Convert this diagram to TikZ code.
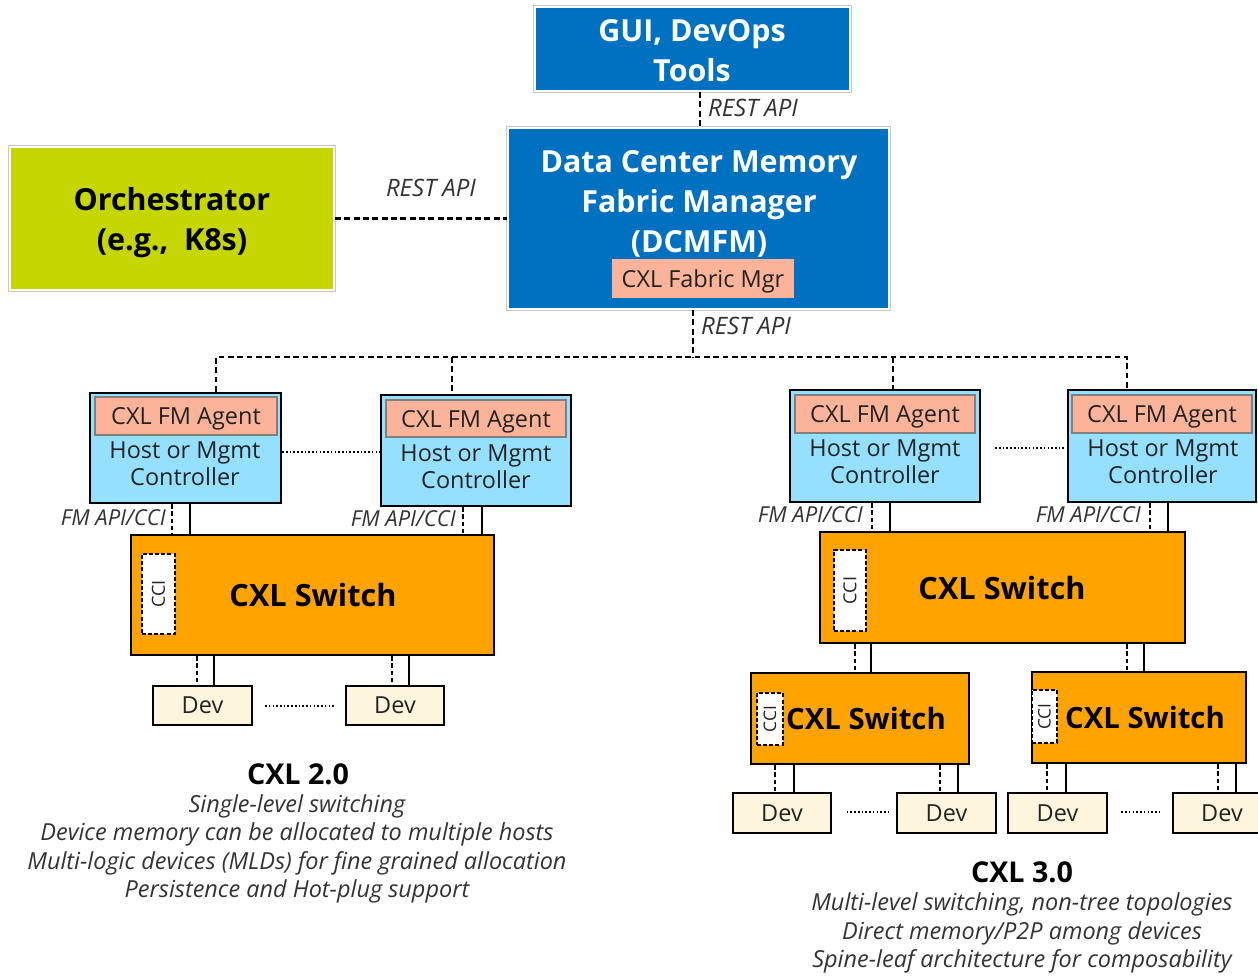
\documentclass[tikz,border=0pt]{standalone}
\usepackage{fontspec}
\setmainfont{Open Sans}
\usetikzlibrary{fit,calc}

\definecolor{dcblue}{HTML}{0070C0}
\definecolor{orchgreen}{HTML}{C5D600}
\definecolor{agentsalmon}{HTML}{FBB49A}
\definecolor{hostblue}{HTML}{95E0FF}
\definecolor{switchorange}{HTML}{FFA300}
\definecolor{devcream}{HTML}{FEF6DC}
\definecolor{inktext}{HTML}{222222}
\definecolor{softtext}{HTML}{333333}

\tikzset{
  region/.style={fit={#1}, inner sep=0pt},
  framed/.style={draw=white, line width=1.6pt,
    preaction={draw=black!22, line width=3pt}},
  titlefont/.style={font=\bfseries\fontsize{22.8pt}{30pt}\selectfont},
  bluebox/.style={framed, fill=dcblue},
  orchbox/.style={framed, fill=orchgreen},
  titletext/.style={titlefont, align=center, inner sep=0pt},
  smalltext/.style={text=inktext, align=center, inner sep=0pt,
    font=\fontsize{17.6pt}{20.3pt}\selectfont},
  agenttext/.style={smalltext, yshift=-2.2pt},
  fabricmgr/.style={fill=agentsalmon},
  hostbox/.style={fill=hostblue, draw=black, line width=1.9pt},
  agentbox/.style={fill=agentsalmon, draw=black!50, line width=1.2pt},
  switchbox/.style={fill=switchorange, draw=black, line width=1.9pt},
  switchtext/.style={text=black, inner sep=0pt,
    font=\bfseries\fontsize{#1}{#1}\selectfont},
  ccibox/.style={fill=white, draw=black, line width=1.4pt,
    dash pattern=on 3pt off 1.6pt},
  ccitext/.style={text=inktext, rotate=90, inner sep=0pt,
    font=\fontsize{#1}{#1}\selectfont},
  devbox/.style={fill=devcream, draw=black, line width=1.6pt},
  busline/.style={draw=black, line width=2pt, dash pattern=on 4.4pt off 2.6pt},
  linkdash/.style={draw=black, line width=1.7pt, dash pattern=on 3.4pt off 2pt},
  linksolid/.style={draw=black, line width=1.7pt},
  dotline/.style={draw=black, line width=1.5pt, dash pattern=on 1.2pt off 1.6pt},
  apilabel/.style={text=softtext, inner sep=0pt,
    font=\itshape\fontsize{18pt}{20pt}\selectfont},
  fmlabel/.style={text=softtext, anchor=east, inner sep=0pt,
    font=\itshape\fontsize{16.5pt}{18pt}\selectfont},
  gentitle/.style={text=black, inner sep=0pt,
    font=\bfseries\fontsize{21.5pt}{24pt}\selectfont},
  genlist/.style={text=softtext, align=center, inner sep=0pt,
    font=\itshape\fontsize{17.6pt}{21.3pt}\selectfont},
}

\begin{document}
\begin{tikzpicture}[x=0.75pt, y=-0.75pt]
\useasboundingbox (0,0) rectangle (1258,976);

% management tier
\node[bluebox, region={(535,7) (850,91)}] (gui) {};
\node[titletext, text=white] (guitext) at (692,51) {GUI, DevOps\\Tools};
\node[bluebox, region={(508,128) (889,309)}] (dcm) {};
\node[titletext, text=white] (dcmtext) at (699,204)
  {Data Center Memory\\Fabric Manager\\(DCMFM)};
\node[fabricmgr, region={(612,259) (794,298)}] (fmgr) {};
\node[agenttext] (fmgrtext) at (fmgr.center) {CXL Fabric Mgr};
\node[orchbox, region={(10,147) (334,290)}] (orch) {};
\node[titletext, text=black] (orchtext) at (172,223) {Orchestrator\\(e.g.,~ K8s)};

\draw[busline] (gui.south -| 700,0) -- (dcm.north -| 700,0);
\node[apilabel] (api1) at (753,108) {REST API};
\draw[busline] (orch.east) -- (dcm.west |- orch.east);
\node[apilabel] (api2) at (431,188) {REST API};

% host / management controllers
\node[hostbox, region={(90,393) (281,503)}] (h1) {};
\node[agentbox, region={(95,397) (277,435)}] (a1) {};
\node[agenttext] (a1text) at (a1.center) {CXL FM Agent};
\node[smalltext] (t1) at (185,464) {Host or Mgmt\\Controller};
\node[hostbox, region={(381,395) (571,506)}] (h2) {};
\node[agentbox, region={(386,400) (566,437)}] (a2) {};
\node[agenttext] (a2text) at (a2.center) {CXL FM Agent};
\node[smalltext] (t2) at (476,467) {Host or Mgmt\\Controller};
\node[hostbox, region={(790,390) (980,502)}] (h3) {};
\node[agentbox, region={(795,395) (975,433)}] (a3) {};
\node[agenttext] (a3text) at (a3.center) {CXL FM Agent};
\node[smalltext] (t3) at (885,462) {Host or Mgmt\\Controller};
\node[hostbox, region={(1068,390) (1256,502)}] (h4) {};
\node[agentbox, region={(1072,395) (1252,433)}] (a4) {};
\node[agenttext] (a4text) at (a4.center) {CXL FM Agent};
\node[smalltext] (t4) at (1163,462) {Host or Mgmt\\Controller};

% REST API bus from the fabric manager down to the controllers
\coordinate (busL) at (216,357);
\coordinate (busR) at (1127,357);
\draw[busline] (dcm.south -| 693,0) -- (busL -| 693,0);
\node[apilabel] (api3) at (746,326) {REST API};
\draw[busline] (h1.north -| busL) -- (busL) -- (busR) -- (h4.north -| busR);
\draw[busline] (busL -| 452,0) -- (h2.north -| 452,0);
\draw[busline] (busL -| 893,0) -- (h3.north -| 893,0);

\draw[dotline] (h1.east |- 0,452) -- (h2.west |- 0,452);
\draw[dotline, shorten <=10.5pt, shorten >=1.5pt] (h3.east |- 0,448) -- (h4.west |- 0,448);

% CXL 2.0 switch and devices
\node[switchbox, region={(131,535) (494,655)}] (s1) {};
\node[switchtext=23pt] (s1text) at (313,595) {CXL Switch};
\node[ccibox, region={(142,554) (175,634)}] (c1) {};
\node[ccitext=13.5pt] (c1text) at (c1.center) {CCI};

\draw[linkdash] (h1.south -| 172,0) -- (s1.north -| 172,0);
\draw[linksolid] (h1.south -| 190,0) -- (s1.north -| 190,0);
\draw[linkdash] (h2.south -| 463,0) -- (s1.north -| 463,0);
\draw[linksolid] (h2.south -| 482,0) -- (s1.north -| 482,0);
\node[fmlabel] (fm1) at (166,518) {FM API/CCI};
\node[fmlabel] (fm2) at (456,519) {FM API/CCI};

\node[devbox, region={(153,686) (252,725)}] (d1) {};
\node[smalltext] (d1text) at (d1.center) {Dev};
\node[devbox, region={(346,686) (444,725)}] (d2) {};
\node[smalltext] (d2text) at (d2.center) {Dev};
\draw[linkdash] (s1.south -| 197,0) -- (d1.north -| 197,0);
\draw[linksolid] (s1.south -| 214,0) -- (d1.north -| 214,0);
\draw[linkdash] (s1.south -| 392,0) -- (d2.north -| 392,0);
\draw[linksolid] (s1.south -| 409,0) -- (d2.north -| 409,0);
\draw[dotline, shorten <=9pt, shorten >=8pt] (d1.east) -- (d2.west);

% CXL 3.0 spine switch
\node[switchbox, region={(820,532) (1185,643)}] (s2) {};
\node[switchtext=23pt] (s2text) at (1002,588) {CXL Switch};
\node[ccibox, region={(834,550) (866,631)}] (c2) {};
\node[ccitext=13.5pt] (c2text) at (c2.center) {CCI};

\draw[linkdash] (h3.south -| 872,0) -- (s2.north -| 872,0);
\draw[linksolid] (h3.south -| 890,0) -- (s2.north -| 890,0);
\draw[linkdash] (h4.south -| 1150,0) -- (s2.north -| 1150,0);
\draw[linksolid] (h4.south -| 1168,0) -- (s2.north -| 1168,0);
\node[fmlabel] (fm3) at (863,515) {FM API/CCI};
\node[fmlabel] (fm4) at (1141,515) {FM API/CCI};

% leaf switches
\node[switchbox, region={(751,673) (969,764)}] (s3) {};
\node[switchtext=22pt] (s3text) at (866,718) {CXL Switch};
\node[ccibox, region={(757,693) (783,745)}] (c3) {};
\node[ccitext=13pt] (c3text) at (c3.center) {CCI};
\node[switchbox, region={(1032,672) (1246,763)}] (s4) {};
\node[switchtext=22pt] (s4text) at (1145,717) {CXL Switch};
\node[ccibox, region={(1032,690) (1057,743)}] (c4) {};
\node[ccitext=13pt] (c4text) at (c4.center) {CCI};

\draw[linkdash] (s2.south -| 855,0) -- (s3.north -| 855,0);
\draw[linksolid] (s2.south -| 871,0) -- (s3.north -| 871,0);
\draw[linkdash] (s2.south -| 1127,0) -- (s4.north -| 1127,0);
\draw[linksolid] (s2.south -| 1144,0) -- (s4.north -| 1144,0);

\node[devbox, region={(733,793) (831,833)}] (d3) {};
\node[smalltext] (d3text) at (d3.center) {Dev};
\node[devbox, region={(897,793) (996,833)}] (d4) {};
\node[smalltext] (d4text) at (d4.center) {Dev};
\node[devbox, region={(1008,793) (1107,833)}] (d5) {};
\node[smalltext] (d5text) at (d5.center) {Dev};
\node[devbox, region={(1173,793) (1272,833)}] (d6) {};
\node[smalltext] (d6text) at (1222,813) {Dev};

\draw[linkdash] (s3.south -| 775,0) -- (d3.north -| 775,0);
\draw[linksolid] (s3.south -| 794,0) -- (d3.north -| 794,0);
\draw[linkdash] (s3.south -| 940,0) -- (d4.north -| 940,0);
\draw[linksolid] (s3.south -| 958,0) -- (d4.north -| 958,0);
\draw[linkdash] (s4.south -| 1047,0) -- (d5.north -| 1047,0);
\draw[linksolid] (s4.south -| 1066,0) -- (d5.north -| 1066,0);
\draw[linkdash] (s4.south -| 1218,0) -- (d6.north -| 1218,0);
\draw[linksolid] (s4.south -| 1236,0) -- (d6.north -| 1236,0);
\draw[dotline, shorten <=11pt, shorten >=6pt] (d3.east |- 0,812) -- (d4.west |- 0,812);
\draw[dotline, shorten <=10pt, shorten >=8pt] (d5.east |- 0,812) -- (d6.west |- 0,812);

% generation summaries
\node[gentitle] (g2) at (298,774) {CXL 2.0};
\node[genlist] (g2list) at (297,849) {Single-level switching\\
  Device memory can be allocated to multiple hosts\\
  Multi-logic devices (MLDs) for fine grained allocation\\
  Persistence and Hot-plug support};
\node[gentitle] (g3) at (1022,872) {CXL 3.0};
\node[genlist] (g3list) at (1022,933) {Multi-level switching, non-tree topologies\\
  Direct memory/P2P among devices\\
  Spine-leaf architecture for composability};
\end{tikzpicture}
\end{document}
